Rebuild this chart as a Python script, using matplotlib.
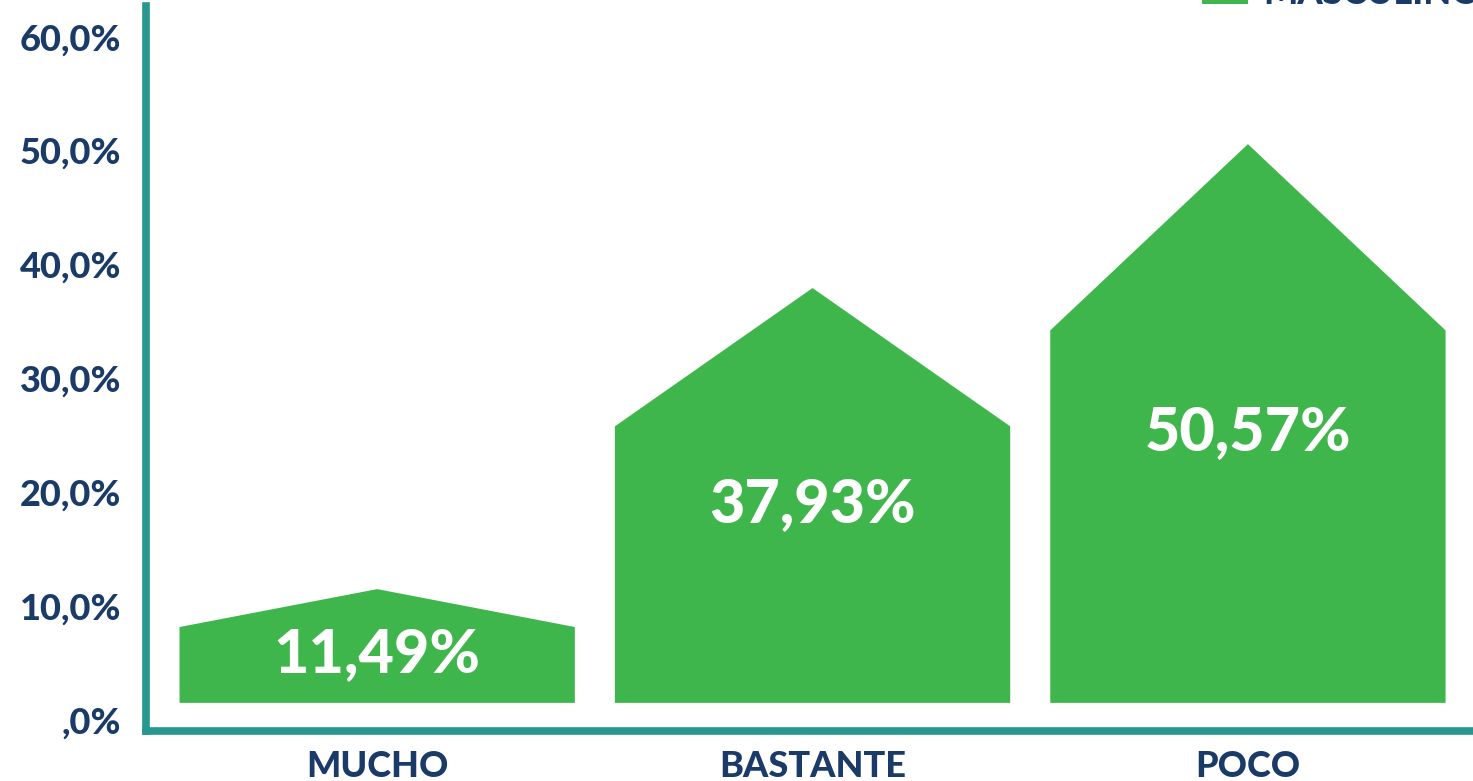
import matplotlib.pyplot as plt
from matplotlib.patches import Polygon, Rectangle

# data
categories = ['MUCHO', 'BASTANTE', 'POCO']
values = [11.49, 37.93, 50.57]
value_labels = ['11,49%', '37,93%', '50,57%']
yticks = [0, 10, 20, 30, 40, 50, 60]
ytick_labels = [',0%', '10,0%', '20,0%', '30,0%', '40,0%', '50,0%', '60,0%']
legend_label = 'MASCULINO'

GREEN = '#3fb64b'
NAVY = '#1a3a68'
TEAL = '#27978f'
WEIGHT = 'black'

plt.rcParams['font.family'] = ['Lato', 'DejaVu Sans']


def house(x, top, width, base, shoulder_frac=2/3):
    """ house-shaped bar: flat base, vertical walls and a pointed roof """
    x0, x1 = x - width/2, x + width/2
    sh = base + (top - base)*shoulder_frac
    return [(x0, base), (x1, base), (x1, sh), (x, top), (x0, sh)]


fig = plt.figure(figsize=(14.73, 7.81), dpi=100)
ax = fig.add_axes([146/1473, 1 - 731/781, 1 - 146/1473, (731 - 6)/781])

base = 1.5
width = 0.908
for i, v in enumerate(values):
    ax.add_patch(Polygon(house(i, v, width, base), closed=True,
                         facecolor=GREEN, edgecolor='none'))
    ax.text(i, v/2, value_labels[i], ha='center', va='center',
            color='white', fontsize=44, fontweight=WEIGHT)

ax.set_xlim(-0.531, 2.517)
ax.set_ylim(-0.97, 62.7)

ax.set_yticks(yticks)
ax.set_yticklabels(ytick_labels)
ax.set_xticks(range(len(categories)))
ax.set_xticklabels(categories)
ax.tick_params(axis='y', length=0, pad=18, labelsize=26, labelcolor=NAVY)
ax.tick_params(axis='x', length=0, pad=14, labelsize=26, labelcolor=NAVY)
for lab in ax.get_xticklabels() + ax.get_yticklabels():
    lab.set_fontweight(WEIGHT)

for side in ['top', 'right']:
    ax.spines[side].set_visible(False)
for side in ['left', 'bottom']:
    ax.spines[side].set_color(TEAL)
    ax.spines[side].set_linewidth(5.5)
    ax.spines[side].set_capstyle('projecting')

# legend, cut off by the top edge of the picture as in the original
fig.patches.append(Rectangle((1202/1473, 1 - 4/781), 46/1473, 20/781,
                             transform=fig.transFigure, facecolor=GREEN,
                             edgecolor='none'))
fig.text(1263/1473, 1 - 4/781, legend_label, ha='left', va='baseline',
         color=NAVY, fontsize=26, fontweight=WEIGHT)

fig.savefig('out.png', dpi=100)
